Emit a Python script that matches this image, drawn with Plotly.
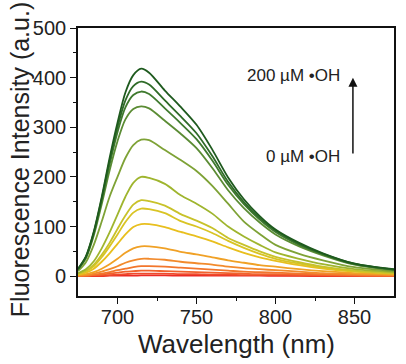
import plotly.graph_objects as go

# Wavelength grid (nm)
wavelength = [675, 680, 685, 690, 695, 700, 705, 710, 715, 720, 730, 740, 750,
              760, 770, 780, 790, 800, 815, 830, 850, 875]

# Emission spectra, from 200 µM •OH (top) down to 0 µM •OH (bottom)
curve_01 = [15, 40, 90, 159, 238, 309, 370, 405, 418, 410, 374, 341, 305, 255, 199, 155, 121, 94, 67, 46, 25, 14]
curve_02 = [14, 39, 88, 156, 232, 300, 354, 383, 392, 386, 354, 322, 288, 242, 190, 149, 117, 92, 65, 45, 25, 13]
curve_03 = [14, 38, 86, 152, 225, 290, 340, 365, 372, 367, 338, 308, 276, 233, 184, 145, 114, 89, 63, 44, 24, 13]
curve_04 = [13, 36, 82, 145, 213, 272, 316, 337, 342, 338, 313, 287, 258, 218, 173, 137, 108, 84, 60, 42, 23, 12]
curve_05 = [10, 28, 63, 110, 160, 200, 238, 264, 275, 274, 254, 234, 212, 182, 146, 110, 85, 63, 45, 32, 18, 10]
curve_06 = [6, 14, 30, 56, 88, 124, 160, 188, 200, 198, 186, 163, 146, 126, 100, 80, 63, 48, 35, 24, 14, 8]
curve_07 = [5, 11, 23, 43, 67, 95, 122, 144, 153, 151, 142, 125, 112, 97, 77, 63, 50, 39, 28, 19, 11, 6]
curve_08 = [4, 10, 20, 38, 60, 84, 109, 128, 136, 135, 127, 111, 100, 87, 71, 57, 45, 35, 25, 17, 10, 6]
curve_09 = [3, 7, 15, 29, 46, 65, 84, 99, 105, 105, 99, 89, 80, 70, 58, 47, 38, 31, 22, 15, 9, 5]
curve_10 = [2, 4, 8, 15, 24, 35, 47, 56, 60, 60, 56, 49, 44, 38, 32, 27, 22, 19, 14, 10, 6, 3]
curve_11 = [1, 2, 5, 9, 14, 20, 27, 32, 35, 35, 33, 29, 26, 23, 19, 16, 14, 12, 9, 6, 4, 2]
curve_12 = [1, 1, 3, 5, 8, 12, 15, 18, 20, 20, 19, 17, 15, 13, 11, 9, 8, 7, 5, 4, 2, 1]
curve_13 = [0, 1, 2, 3, 5, 7, 9, 10, 11, 11, 10, 9, 8, 7, 6, 5, 4, 4, 3, 2, 1, 1]
curve_14 = [0, 0, 1, 1, 2, 3, 4, 5, 5, 5, 5, 4, 4, 3, 3, 2, 2, 2, 1, 1, 1, 0]
curve_15 = [0, 0, 0, 0, 1, 1, 1, 1, 1.5, 1.5, 1.5, 1, 1, 1, 1, 1, 1, 0.5, 0.5, 0, 0, 0]

curves = [curve_01, curve_02, curve_03, curve_04, curve_05, curve_06, curve_07,
          curve_08, curve_09, curve_10, curve_11, curve_12, curve_13, curve_14, curve_15]

x_ticks = [700, 750, 800, 850]
y_ticks = [0, 100, 200, 300, 400, 500]

colors = ["#1e5a1e", "#2f6b28", "#3f7a2e", "#5b8c34", "#7ea236", "#9fb52e",
          "#c8c22a", "#d9c424", "#e8bf1e", "#f0a126", "#f28a2c", "#f2762c",
          "#f1622c", "#ef4a2a", "#ec2a24"]

FONT = "Liberation Sans, Arial, sans-serif"
TXT = "#222222"

fig = go.Figure()
# draw bottom curves first so the dark green is on top
for ys, col in reversed(list(zip(curves, colors))):
    fig.add_trace(go.Scatter(
        x=wavelength, y=ys, mode="lines",
        line=dict(color=col, width=1.8, shape="spline", smoothing=0.8),
        showlegend=False, hoverinfo="skip"))

axis_common = dict(
    showline=True, linecolor="#111111", linewidth=1.6, mirror=True,
    ticks="outside", ticklen=6, tickwidth=1.4, tickcolor="#111111",
    showgrid=False, zeroline=False,
    tickfont=dict(family=FONT, size=20, color=TXT),
)

fig.update_layout(
    width=406, height=364,
    margin=dict(l=78, r=10, t=28, b=68),
    paper_bgcolor="white", plot_bgcolor="white",
    xaxis=dict(range=[675, 875], tickvals=x_ticks, ticklabelstandoff=-4,
               minor=dict(tickvals=[725, 775, 825], ticklen=3, tickwidth=1.2,
                          tickcolor="#111111", ticks="outside"),
               **axis_common),
    yaxis=dict(range=[-40, 500], tickvals=y_ticks,
               minor=dict(tickvals=[50, 150, 250, 350, 450], ticklen=3, tickwidth=1.2,
                          tickcolor="#111111", ticks="outside"),
               **axis_common),
    annotations=[
        dict(text="Wavelength (nm)", xref="paper", yref="paper", x=0.5, y=-0.18,
             xanchor="center", yanchor="middle", showarrow=False,
             font=dict(family=FONT, size=26, color=TXT)),
        dict(text="Fluorescence Intensity (a.u.)", xref="paper", yref="paper",
             x=-0.184, y=0.51, xanchor="center", yanchor="middle", textangle=-90,
             showarrow=False, font=dict(family=FONT, size=25, color=TXT)),
        dict(text="200 µM •OH", xref="x", yref="y", x=842, y=405,
             xanchor="right", yanchor="middle", showarrow=False,
             font=dict(family=FONT, size=17, color=TXT)),
        dict(text="0 µM •OH", xref="x", yref="y", x=842, y=242,
             xanchor="right", yanchor="middle", showarrow=False,
             font=dict(family=FONT, size=17, color=TXT)),
        dict(text="", x=849, y=400, ax=849, ay=244, xref="x", yref="y",
             axref="x", ayref="y", showarrow=True, arrowhead=2, arrowsize=1.2,
             arrowwidth=1.5, arrowcolor="#111111"),
    ],
)

fig.write_html("out.html", config={"displayModeBar": False},
               post_script="document.body.style.margin='0';document.body.style.padding='0';")
